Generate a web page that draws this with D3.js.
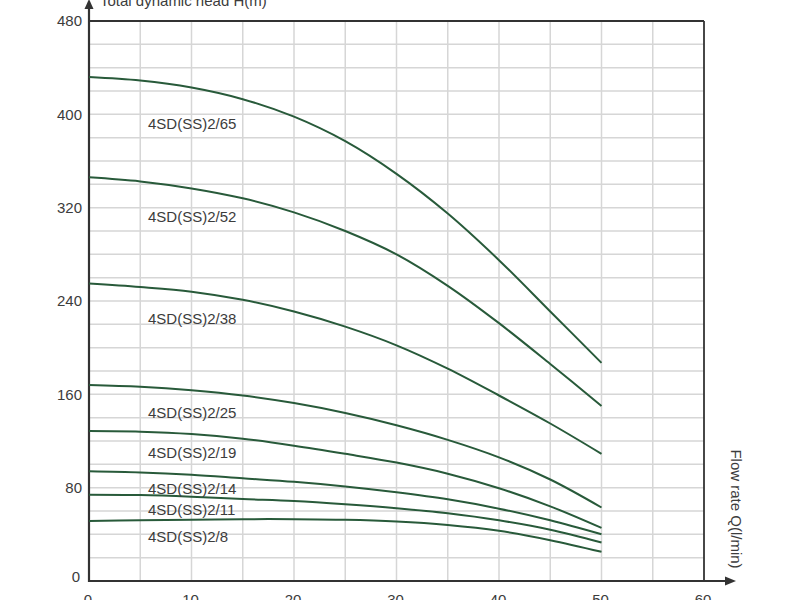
<!DOCTYPE html>
<html>
<head>
<meta charset="utf-8">
<script src="https://cdn.jsdelivr.net/npm/d3@7"></script>
<style>
  html, body { margin: 0; padding: 0; background: #fff; }
  svg { display: block; font-family: "Liberation Sans", Arial, sans-serif; }
</style>
</head>
<body>
<svg id="chart" width="800" height="600"></svg>
<script>
// ---- Data ----
const flowQ = [0, 5, 10, 15, 20, 25, 30, 35, 40, 45, 50];
const seriesNames = ["4SD(SS)2/65", "4SD(SS)2/52", "4SD(SS)2/38", "4SD(SS)2/25",
                     "4SD(SS)2/19", "4SD(SS)2/14", "4SD(SS)2/11", "4SD(SS)2/8"];
const head_2_65 = [432, 429, 423, 413, 398, 377, 349, 315, 275, 231, 187];
const head_2_52 = [346, 342.5, 336.5, 328, 316, 300, 280, 253, 221, 186, 150];
const head_2_38 = [255, 252, 248, 241, 231, 218, 202, 182, 159, 135, 109];
const head_2_25 = [168, 166.5, 163.5, 159, 152.5, 144, 133.5, 121, 106, 87, 63];
const head_2_19 = [128.5, 128, 126, 122, 116, 109, 101.5, 92, 79.5, 64, 45.5];
const head_2_14 = [94, 93, 91, 88, 85, 81, 76, 70, 62, 52, 40];
const head_2_11 = [74, 73.7, 72.3, 70.3, 68.5, 65.7, 62.3, 58, 52, 44, 33];
const head_2_8  = [51.5, 52, 52.5, 53, 53, 52.5, 51, 48, 43, 35, 25];
const seriesHeads = [head_2_65, head_2_52, head_2_38, head_2_25, head_2_19, head_2_14, head_2_11, head_2_8];
// label anchors (data units: head value at label centre)
const labelHead = [392, 312, 225, 144, 110, 79, 61, 38];
const xTicks = [0, 10, 20, 30, 40, 50, 60];
const yTicks = [0, 80, 160, 240, 320, 400, 480];
const xTitle = "Flow rate Q(l/min)";
const yTitle = "Total dynamic head H(m)";

// ---- Layout ----
const svg = d3.select("#chart");
const x = d3.scaleLinear().domain([0, 60]).range([89, 704]);
const y = d3.scaleLinear().domain([0, 480]).range([581, 21]);
const gridColor = "#d6d6d6";
const axisColor = "#333";
const curveColor = "#285a3a";
const textColor = "#3c3c3c";

// grid
const grid = svg.append("g");
grid.selectAll("line.v").data(d3.range(5, 60, 5)).join("line")
  .attr("x1", d => x(d)).attr("x2", d => x(d))
  .attr("y1", y(480)).attr("y2", y(0))
  .attr("stroke", gridColor).attr("stroke-width", 1.5);
grid.selectAll("line.h").data(d3.range(20, 480, 20)).join("line")
  .attr("y1", d => y(d)).attr("y2", d => y(d))
  .attr("x1", x(0)).attr("x2", x(60))
  .attr("stroke", gridColor).attr("stroke-width", 1.5);

// frame top & right
svg.append("line").attr("x1", x(0)).attr("x2", x(60)).attr("y1", y(480)).attr("y2", y(480))
  .attr("stroke", axisColor).attr("stroke-width", 1.8);
svg.append("line").attr("x1", x(60)).attr("x2", x(60)).attr("y1", y(480)).attr("y2", y(0))
  .attr("stroke", axisColor).attr("stroke-width", 1.8);

// axes with arrows
svg.append("line").attr("x1", x(0)).attr("x2", x(0)).attr("y1", y(0) + 1).attr("y2", 6)
  .attr("stroke", axisColor).attr("stroke-width", 2.2);
svg.append("path").attr("d", `M${x(0) - 4.5},${9} L${x(0)},-1 L${x(0) + 4.5},${9} Z`).attr("fill", axisColor);
svg.append("line").attr("x1", x(0) - 1).attr("x2", 728).attr("y1", y(0)).attr("y2", y(0))
  .attr("stroke", axisColor).attr("stroke-width", 2.2);
svg.append("path").attr("d", `M725,${y(0) - 4.5} L736,${y(0)} L725,${y(0) + 4.5} Z`).attr("fill", axisColor);

// tick labels
svg.append("g").selectAll("text").data(yTicks).join("text")
  .attr("x", d => d === 0 ? 80 : 82).attr("y", d => d === 0 ? y(d) - 4 : y(d)).attr("dy", "0.35em")
  .attr("text-anchor", "end").attr("font-size", 15).attr("fill", textColor)
  .text(d => d);
svg.append("g").selectAll("text").data(xTicks).join("text")
  .attr("x", d => x(d) - 1).attr("y", 605)
  .attr("text-anchor", "middle").attr("font-size", 15).attr("fill", textColor)
  .text(d => d);

// titles
svg.append("text").attr("x", 100).attr("y", 6).attr("font-size", 15).attr("fill", textColor).text(yTitle);
svg.append("text").attr("transform", "translate(731,509) rotate(90)")
  .attr("text-anchor", "middle").attr("font-size", 15).attr("fill", textColor).text(xTitle);

// curves
const line = d3.line().x((d, i) => x(flowQ[i])).y(d => y(d)).curve(d3.curveCatmullRom.alpha(0.5));
svg.append("g").selectAll("path").data(seriesHeads).join("path")
  .attr("d", d => line(d)).attr("fill", "none")
  .attr("stroke", curveColor).attr("stroke-width", 2);

// labels
svg.append("g").selectAll("text").data(seriesNames).join("text")
  .attr("x", 148).attr("y", (d, i) => y(labelHead[i])).attr("dy", "0.35em")
  .attr("font-size", 15).attr("fill", textColor)
  .text(d => d);
</script>
</body>
</html>
